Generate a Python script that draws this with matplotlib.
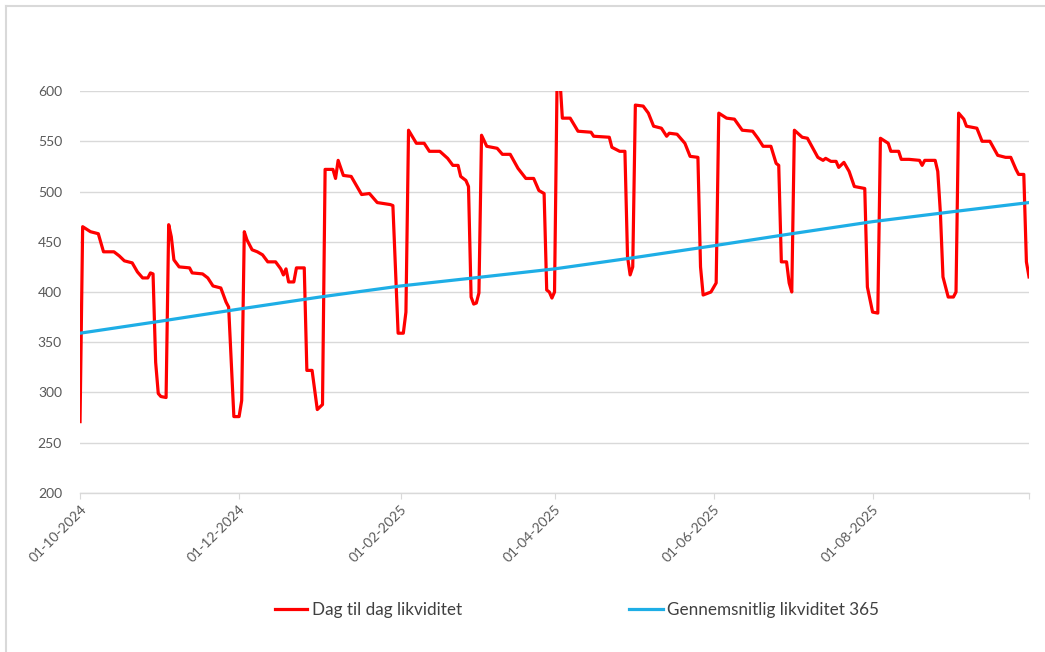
import matplotlib.pyplot as plt
from matplotlib.lines import Line2D
import pandas as pd

# daily liquidity, breakpoints
dag_dates = [
    "2024-10-01", "2024-10-02", "2024-10-05", "2024-10-08", "2024-10-10", "2024-10-14",
    "2024-10-16", "2024-10-18", "2024-10-21", "2024-10-23", "2024-10-25", "2024-10-27",
    "2024-10-28", "2024-10-29", "2024-10-30", "2024-10-31", "2024-11-01", "2024-11-03",
    "2024-11-04", "2024-11-05", "2024-11-06", "2024-11-08", "2024-11-12", "2024-11-13",
    "2024-11-17", "2024-11-19", "2024-11-21", "2024-11-24", "2024-11-26", "2024-11-27",
    "2024-11-29", "2024-12-01", "2024-12-02", "2024-12-03", "2024-12-04", "2024-12-06",
    "2024-12-08", "2024-12-10", "2024-12-12", "2024-12-15", "2024-12-17", "2024-12-18",
    "2024-12-19", "2024-12-20", "2024-12-22", "2024-12-23", "2024-12-26", "2024-12-27",
    "2024-12-29", "2024-12-31", "2025-01-02", "2025-01-03", "2025-01-06", "2025-01-07",
    "2025-01-08", "2025-01-10", "2025-01-13", "2025-01-15", "2025-01-17", "2025-01-20",
    "2025-01-23", "2025-01-28", "2025-01-29", "2025-01-31", "2025-02-02", "2025-02-03",
    "2025-02-04", "2025-02-07", "2025-02-10", "2025-02-12", "2025-02-16", "2025-02-19",
    "2025-02-21", "2025-02-23", "2025-02-24", "2025-02-26", "2025-02-27", "2025-02-28",
    "2025-03-01", "2025-03-02", "2025-03-03", "2025-03-04", "2025-03-06", "2025-03-10",
    "2025-03-12", "2025-03-15", "2025-03-18", "2025-03-21", "2025-03-24", "2025-03-26",
    "2025-03-28", "2025-03-29", "2025-03-30", "2025-03-31", "2025-04-01", "2025-04-02",
    "2025-04-03", "2025-04-04", "2025-04-07", "2025-04-10", "2025-04-15", "2025-04-16",
    "2025-04-22", "2025-04-23", "2025-04-26", "2025-04-28", "2025-04-29", "2025-04-30",
    "2025-05-01", "2025-05-02", "2025-05-05", "2025-05-07", "2025-05-09", "2025-05-12",
    "2025-05-14", "2025-05-15", "2025-05-18", "2025-05-21", "2025-05-23", "2025-05-26",
    "2025-05-27", "2025-05-28", "2025-05-31", "2025-06-02", "2025-06-03", "2025-06-06",
    "2025-06-09", "2025-06-12", "2025-06-16", "2025-06-18", "2025-06-20", "2025-06-23",
    "2025-06-25", "2025-06-26", "2025-06-27", "2025-06-29", "2025-06-30", "2025-07-01",
    "2025-07-02", "2025-07-05", "2025-07-07", "2025-07-11", "2025-07-13", "2025-07-14",
    "2025-07-16", "2025-07-18", "2025-07-19", "2025-07-21", "2025-07-23", "2025-07-25",
    "2025-07-29", "2025-07-30", "2025-08-01", "2025-08-03", "2025-08-04", "2025-08-07",
    "2025-08-08", "2025-08-11", "2025-08-12", "2025-08-15", "2025-08-19", "2025-08-20",
    "2025-08-21", "2025-08-25", "2025-08-26", "2025-08-27", "2025-08-28", "2025-08-30",
    "2025-09-01", "2025-09-02", "2025-09-03", "2025-09-05", "2025-09-06", "2025-09-10",
    "2025-09-12", "2025-09-15", "2025-09-18", "2025-09-21", "2025-09-23", "2025-09-25",
    "2025-09-26", "2025-09-28", "2025-09-29", "2025-09-30",
]
dag_values = [
    271, 465, 460, 458, 440, 440,
    436, 431, 429, 420, 414, 414,
    419, 418, 330, 299, 296, 295,
    467, 455, 432, 425, 424, 419,
    418, 414, 406, 404, 390, 385,
    276, 276, 292, 460, 452, 442,
    440, 437, 430, 430, 423, 417,
    423, 410, 410, 424, 424, 322,
    322, 283, 288, 522, 522, 513,
    531, 516, 515, 506, 497, 498,
    489, 487, 486, 359, 359, 380,
    561, 548, 548, 540, 540, 533,
    526, 526, 515, 511, 505, 395,
    388, 389, 399, 556, 545, 543,
    537, 537, 523, 513, 513, 501,
    498, 402, 400, 394, 400, 615,
    615, 573, 573, 560, 559, 555,
    554, 544, 540, 540, 435, 417,
    425, 586, 585, 578, 565, 563,
    555, 558, 557, 548, 535, 534,
    425, 397, 400, 409, 578, 573,
    572, 561, 560, 553, 545, 545,
    528, 526, 430, 430, 409, 400,
    561, 554, 553, 534, 531, 533,
    530, 530, 524, 529, 520, 505,
    503, 405, 380, 379, 553, 548,
    540, 540, 532, 532, 531, 526,
    531, 531, 520, 479, 415, 395,
    395, 400, 578, 572, 565, 563,
    550, 550, 536, 534, 534, 522,
    517, 517, 430, 415,
]

# 365-day average, read monthly
snit_dates = [
    "2024-10-01", "2024-11-01", "2024-12-01", "2025-01-01", "2025-02-01", "2025-03-01",
    "2025-04-01", "2025-05-01", "2025-06-01", "2025-07-01", "2025-08-01", "2025-09-01",
    "2025-09-30",
]
snit_values = [359, 371, 383, 395, 406, 414, 423, 434, 446, 458, 470, 480, 489]

tick_dates = ["2024-10-01", "2024-12-01", "2025-02-01", "2025-04-01", "2025-06-01", "2025-08-01"]

plt.rcParams['font.family'] = ['Lato', 'DejaVu Sans']

fig = plt.figure(figsize=(10.45, 6.52), dpi=100)
ax = fig.add_axes([0.0766, 0.2439, 0.9081, 0.6165])

red_line, = ax.plot(pd.to_datetime(dag_dates), dag_values, color='#FF0000', lw=2.3,
                    label='Dag til dag likviditet')
blue_line, = ax.plot(pd.to_datetime(snit_dates), snit_values, color='#1EAEE6', lw=2.3,
                     label='Gennemsnitlig likviditet 365')

ax.set_ylim(200, 600)
ax.set_yticks(range(200, 601, 50))
ax.set_xlim(pd.Timestamp("2024-10-01"), pd.Timestamp("2025-09-30"))

ticks = list(pd.to_datetime(tick_dates)) + [pd.Timestamp("2025-09-30")]
ax.set_xticks(ticks)
ax.set_xticklabels([pd.Timestamp(d).strftime("%d-%m-%Y") for d in tick_dates] + [""],
                   rotation=45, ha='right', va='top', rotation_mode='anchor')

ax.grid(axis='y', color='#d9d9d9', lw=1.0)
ax.set_axisbelow(True)
for s in ['top', 'right', 'left']:
    ax.spines[s].set_visible(False)
ax.spines['bottom'].set_color('#d9d9d9')
ax.spines['bottom'].set_linewidth(1.0)
ax.tick_params(axis='y', length=0, pad=13, labelsize=10, labelcolor='#595959')
ax.tick_params(axis='x', length=4, color='#d9d9d9', pad=3, labelsize=10, labelcolor='#595959')

# legend entries placed like the original
fig.legend(handles=[red_line], loc='center left', bbox_to_anchor=(0.263, 0.064),
           frameon=False, fontsize=12.3, handlelength=1.9, handletextpad=0.3,
           borderpad=0, borderaxespad=0, labelcolor='#404040')
fig.legend(handles=[blue_line], loc='center left', bbox_to_anchor=(0.602, 0.064),
           frameon=False, fontsize=12.3, handlelength=2.0, handletextpad=0.2,
           borderpad=0, borderaxespad=0, labelcolor='#404040')

# chart border (top and left visible in the crop)
fig.add_artist(Line2D([0.0055, 1.0], [0.991, 0.991], color='#d9d9d9', lw=1.5,
                      transform=fig.transFigure))
fig.add_artist(Line2D([0.0055, 0.0055], [0.0, 0.991], color='#d9d9d9', lw=1.5,
                      transform=fig.transFigure))

fig.savefig("out.png", dpi=100)
